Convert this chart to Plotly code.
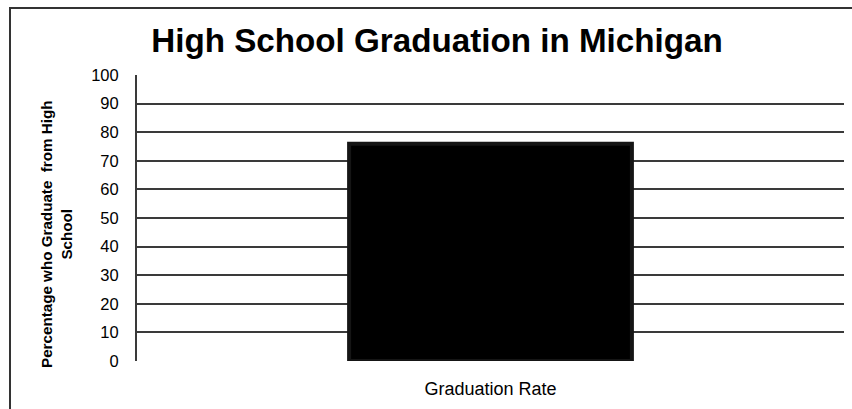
import plotly.graph_objects as go

# Chart data
categories = ["Graduation Rate"]
graduation_pct = [76]
y_ticks = [0, 10, 20, 30, 40, 50, 60, 70, 80, 90, 100]

W, H = 852, 409
L, R, T, B = 137, 8, 75, 48
pw, ph = W - L - R, H - T - B


def px_x(x):
    return (x - L) / pw


def px_y(y):
    return (H - B - y) / ph


fig = go.Figure()
fig.add_trace(go.Bar(
    x=categories,
    y=graduation_pct,
    width=0.4,
    marker=dict(color="#000000", line=dict(color="#151515", width=4)),
    hoverinfo="x+y",
))

font_family = "Liberation Sans, Arial, sans-serif"

fig.update_layout(
    width=W, height=H,
    margin=dict(l=L, r=R, t=T, b=B),
    paper_bgcolor="white",
    plot_bgcolor="white",
    showlegend=False,
    font=dict(family=font_family, color="#000000"),
    title=dict(
        text="<b>High School Graduation in Michigan</b>",
        x=px_x(437), xref="paper", xanchor="center",
        y=1 - 40 / H, yref="container", yanchor="middle",
        font=dict(size=33.2, family=font_family, color="#000000"),
    ),
    xaxis=dict(
        showgrid=False, showline=False, zeroline=False,
        ticks="", tickfont=dict(size=18),
        ticklabelstandoff=15,
    ),
    yaxis=dict(
        range=[0, 100], tickvals=y_ticks, ticktext=[str(v) for v in y_ticks],
        showgrid=True, gridcolor="#3a3a3a", gridwidth=2,
        showline=True, linecolor="#3a3a3a", linewidth=2,
        zeroline=False, ticks="", tickfont=dict(size=16.5),
        ticklabelstandoff=13,
    ),
    annotations=[dict(
        text="<b>Percentage who Graduate  from High<br>School</b>",
        x=px_x(56), y=px_y(234), xref="paper", yref="paper",
        xanchor="center", yanchor="middle",
        textangle=-90, showarrow=False, align="center",
        font=dict(size=15.2, family=font_family, color="#000000"),
    )],
    shapes=[dict(
        type="path", xref="paper", yref="paper",
        path=(f"M {px_x(10)} {px_y(H + 5)} L {px_x(10)} {px_y(8)} "
              f"L {px_x(W + 5)} {px_y(8)}"),
        line=dict(color="#333333", width=2),
    )],
)

fig.write_html("out.html")
